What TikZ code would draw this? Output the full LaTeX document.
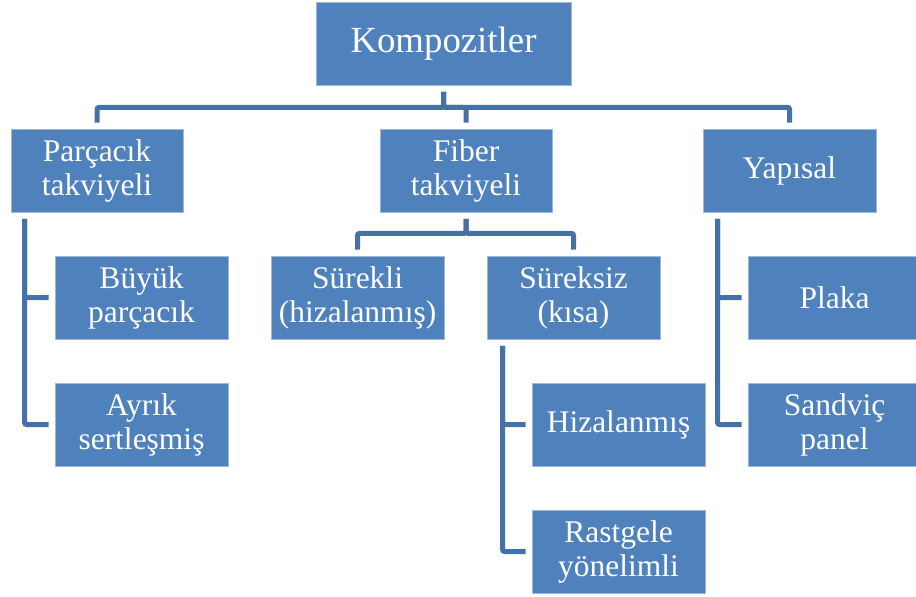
\documentclass[tikz,border=0pt]{standalone}
\usepackage{fontspec}
\setmainfont{Liberation Serif}
\definecolor{boxblue}{HTML}{4F81BD}
\definecolor{linkblue}{HTML}{4571A9}
\begin{document}
\begin{tikzpicture}[x=1pt,y=-1pt,
  box/.style={rectangle, fill=boxblue, draw=boxblue!55!white, line width=0.8pt,
    text=white, align=center, inner sep=0pt, minimum width=173pt, minimum height=83pt,
    font=\fontsize{31.5}{34}\selectfont},
  conn/.style={draw=linkblue, line width=5pt, rounded corners=2pt,
    shorten <=6.5pt, shorten >=6pt}]
\useasboundingbox (0,0) rectangle (916,597);
\clip (0,0) rectangle (916,597);

\node[box, minimum width=255pt, font=\fontsize{36.8}{40}\selectfont] (komp) at (443.5,43.5) {Kompozitler};
\node[box, minimum width=172pt] (parc) at (97,170.5) {Parçacık\\takviyeli};
\node[box, minimum width=172pt] (fiber) at (466,170.5) {Fiber\\takviyeli};
\node[box] (yap) at (789.5,170.5) {Yapısal};
\node[box] (buyuk) at (141.5,297.5) {Büyük\\parçacık};
\node[box] (ayrik) at (141.5,424.5) {Ayrık\\sertleşmiş};
\node[box] (surekli) at (357.5,297.5) {Sürekli\\(hizalanmış)};
\node[box] (sureksiz) at (573.5,297.5) {Süreksiz\\(kısa)};
\node[box] (hizal) at (618.5,424.5) {Hizalanmış};
\node[box] (rast) at (618.5,551.5) {Rastgele\\yönelimli};
\node[box] (plaka) at (834.5,297.5) {Plaka};
\node[box] (sandvic) at (834.5,424.5) {Sandviç\\panel};

% root level
\draw[conn] (komp.south) -- ++(0,22) -| (parc.north);
\draw[conn] (komp.south) -- ++(0,22) -| (fiber.north);
\draw[conn] (komp.south) -- ++(0,22) -| (yap.north);

% fiber level
\draw[conn] (fiber.south) -- ++(0,21) -| (surekli.north);
\draw[conn] (fiber.south) -- ++(0,21) -| (sureksiz.north);

% side trees
\draw[conn] ([xshift=14pt]parc.south west) |- (buyuk.west);
\draw[conn] ([xshift=14pt]parc.south west) |- (ayrik.west);
\draw[conn] ([xshift=16pt]sureksiz.south west) |- (hizal.west);
\draw[conn] ([xshift=16pt]sureksiz.south west) |- (rast.west);
\draw[conn] ([xshift=15pt]yap.south west) |- (plaka.west);
\draw[conn] ([xshift=15pt]yap.south west) |- (sandvic.west);
\end{tikzpicture}
\end{document}
